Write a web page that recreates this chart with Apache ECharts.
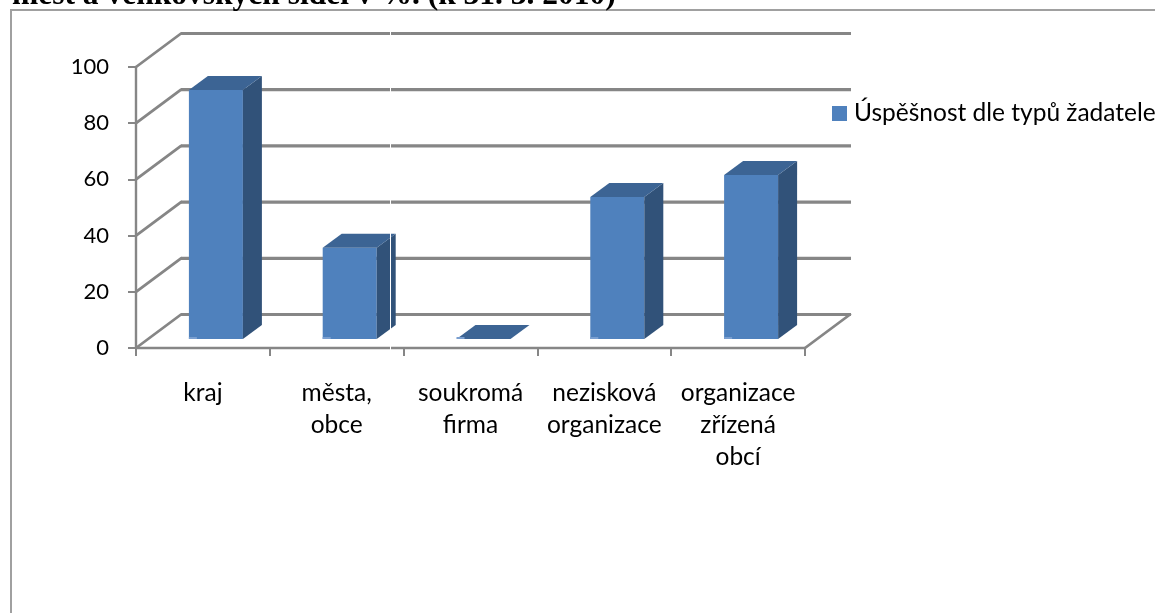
<!DOCTYPE html>
<html><head><meta charset="utf-8">
<style>html,body{margin:0;padding:0;background:#fff}#c{width:1155px;height:613px}</style>
<script src="https://cdn.jsdelivr.net/npm/echarts@6/dist/echarts.min.js"></script>
</head><body><div id="c"></div>
<script>
const titleText = 'měst a venkovských sídel v %. (k 31. 3. 2010)';
const seriesName = 'Úspěšnost dle typů žadatele';
const categories = ['kraj', 'města,\nobce', 'soukromá\nfirma', 'nezisková\norganizace', 'organizace\nzřízená\nobcí'];
const values = [88.6, 32.5, 0, 50.5, 58.4];
const yTicks = [0, 20, 40, 60, 80, 100];

const wallDX = 45, wallDY = -33.5;
const barInX = 13, barInY = -9, barDX = 19, barDY = -14, barW = 54;
const lineCol = '#868686';

const chart = echarts.init(document.getElementById('c'), null, {renderer: 'canvas'});

function renderWall(params, api) {
  const cs = params.coordSys;
  const t = api.value(1);
  const p = api.coord([0, t]);
  const x0 = cs.x, x1 = cs.x + cs.width, y = p[1];
  const side = {stroke: lineCol, lineWidth: 2.8, fill: null, lineCap: 'round'};
  const back = {stroke: lineCol, lineWidth: 3.2, fill: null};
  const children = [
    {type: 'line', shape: {x1: x0, y1: y, x2: x0 + wallDX, y2: y + wallDY}, style: side},
    {type: 'line', shape: {x1: x0 + wallDX, y1: y + wallDY, x2: x1 + wallDX + 1, y2: y + wallDY}, style: back}
  ];
  if (t === 0) {
    children.push({type: 'line', shape: {x1: x1, y1: y, x2: x1 + wallDX, y2: y + wallDY}, style: side});
  }
  return {type: 'group', children};
}

function renderBar(params, api) {
  const i = api.value(0);
  const top = api.coord([i, api.value(1)]);
  const base = api.coord([i, 0]);
  const xL = top[0] - barW / 2 + barInX, xR = xL + barW;
  const yT = top[1] + barInY, yB = base[1] + barInY;
  const children = [];
  if (yB - yT > 0.5) {
    children.push(
      {type: 'rect', shape: {x: xL, y: yT, width: barW, height: yB - yT}, style: {fill: '#4F81BD'}},
      {type: 'polygon', shape: {points: [[xR, yT], [xR + barDX, yT + barDY], [xR + barDX, yB + barDY], [xR, yB]]}, style: {fill: '#315279'}}
    );
  }
  children.push(
    {type: 'polygon', shape: {points: [[xL, yT], [xL + barDX, yT + barDY], [xR + barDX, yT + barDY], [xR, yT]]}, style: {fill: '#3C6494'}},
    {type: 'rect', shape: {x: xL, y: yB - 2, width: 8, height: 2}, style: {fill: '#7A9FD0'}}
  );
  return {type: 'group', children};
}

chart.setOption({
  animation: false,
  backgroundColor: '#fff',
  title: {
    text: titleText, left: 7, top: -25,
    textStyle: {fontFamily: '"Liberation Serif"', fontWeight: 'bold', fontSize: 31.5, color: '#000'}
  },
  legend: {
    data: [seriesName], left: 832, top: 101, icon: 'rect', itemWidth: 15, itemHeight: 15, itemGap: 0,
    padding: 0, selectedMode: false,
    textStyle: {fontFamily: 'Lato', fontSize: 24.5, color: '#000', padding: [0, 0, 0, 2]}
  },
  grid: {left: 136, top: 67, width: 669, height: 281},
  xAxis: {
    type: 'category', data: categories, boundaryGap: true,
    axisLine: {show: true, lineStyle: {color: lineCol, width: 2.4}},
    axisTick: {show: true, length: 8, lineStyle: {color: lineCol, width: 2}},
    axisLabel: {fontFamily: 'Lato', fontSize: 24.5, color: '#000', margin: 29, lineHeight: 32, interval: 0}
  },
  yAxis: {
    type: 'value', min: 0, max: 100, interval: 20,
    axisLine: {show: true, lineStyle: {color: lineCol, width: 2.4}},
    axisTick: {show: true, length: 8, lineStyle: {color: lineCol, width: 2}},
    axisLabel: {fontFamily: 'Lato', fontSize: 22, color: '#000', margin: 27, padding: [2, 0, 0, 0]},
    splitLine: {show: false}
  },
  graphic: [
    {type: 'rect', z: -10, shape: {x: 11, y: 10, width: 1300, height: 900}, style: {fill: null, stroke: '#A0A0A0', lineWidth: 2}},
    {type: 'line', z: 100, shape: {x1: 390.5, y1: 30, x2: 390.5, y2: 350}, style: {stroke: '#fff', lineWidth: 1}}
  ],
  series: [
    {type: 'custom', name: 'wall', z: 1, silent: true, coordinateSystem: 'cartesian2d',
     data: yTicks.map(t => [0, t]), encode: {x: 0, y: 1}, renderItem: renderWall},
    {type: 'custom', name: seriesName, z: 2, coordinateSystem: 'cartesian2d', itemStyle: {color: '#4F81BD'},
     data: values.map((v, i) => [i, v]), encode: {x: 0, y: 1}, renderItem: renderBar}
  ]
});
</script></body></html>
